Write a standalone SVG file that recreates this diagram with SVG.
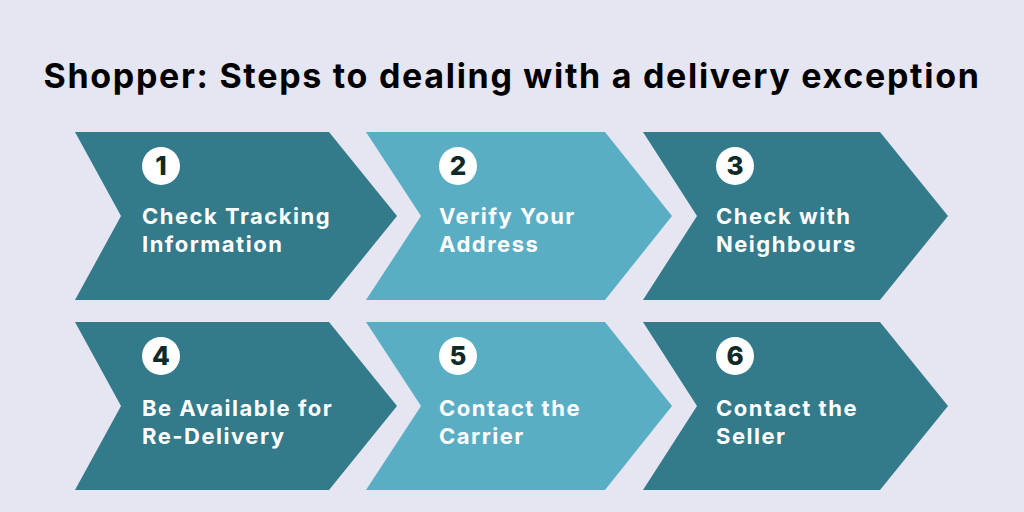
<svg xmlns="http://www.w3.org/2000/svg" width="1024" height="512" viewBox="0 0 1024 512">
<style>
.d{fill:#337a8a}.l{fill:#5aaec4}
.t{font-family:Inter,"Open Sans",sans-serif;font-weight:700;fill:#fff;font-size:22px;letter-spacing:1.5px}
.c{fill:#fff}.n{font-family:Inter,"Open Sans",sans-serif;font-weight:800;font-size:26px;fill:#102a2a;text-anchor:middle}
.h{font-family:Inter,"Open Sans",sans-serif;font-weight:700;font-size:34px;fill:#000;text-anchor:middle;letter-spacing:1.7px}
</style>
<rect width="1024" height="512" fill="#e6e6f2"/>
<text class="h" x="512" y="88">Shopper: Steps to dealing with a delivery exception</text>
<g id="s1"><polygon class="d" points="75,132 329,132 397,216 329,300 75,300 121,216"/><circle class="c" cx="161" cy="166" r="19"/><text class="n" x="161" y="175">1</text><text class="t" x="142" y="224">Check Tracking</text><text class="t" x="142" y="252">Information</text></g>
<g id="s2"><polygon class="l" points="366,132 605,132 672,216 605,300 366,300 421,216"/><circle class="c" cx="458" cy="166" r="19"/><text class="n" x="458" y="175">2</text><text class="t" x="439" y="224">Verify Your</text><text class="t" x="439" y="252">Address</text></g>
<g id="s3"><polygon class="d" points="643,132 880,132 948,216 880,300 643,300 697,216"/><circle class="c" cx="735" cy="166" r="19"/><text class="n" x="735" y="175">3</text><text class="t" x="716" y="224">Check with</text><text class="t" x="716" y="252">Neighbours</text></g>
<g id="s4"><polygon class="d" points="75,322 329,322 397,406 329,490 75,490 121,406"/><circle class="c" cx="161" cy="356" r="19"/><text class="n" x="161" y="365">4</text><text class="t" x="142" y="416">Be Available for</text><text class="t" x="142" y="444">Re-Delivery</text></g>
<g id="s5"><polygon class="l" points="366,322 605,322 672,406 605,490 366,490 421,406"/><circle class="c" cx="458" cy="356" r="19"/><text class="n" x="458" y="365">5</text><text class="t" x="439" y="416">Contact the</text><text class="t" x="439" y="444">Carrier</text></g>
<g id="s6"><polygon class="d" points="643,322 880,322 948,406 880,490 643,490 697,406"/><circle class="c" cx="735" cy="356" r="19"/><text class="n" x="735" y="365">6</text><text class="t" x="716" y="416">Contact the</text><text class="t" x="716" y="444">Seller</text></g>
<g id="connectors"/>
</svg>
